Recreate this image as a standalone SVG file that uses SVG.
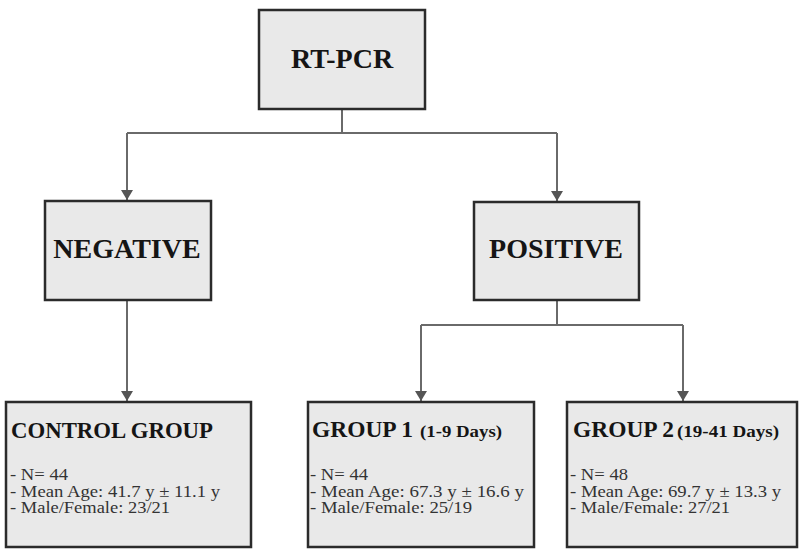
<svg xmlns="http://www.w3.org/2000/svg" width="800" height="552" viewBox="0 0 800 552">
<defs>
<style>
.box{fill:#e9e9e9;stroke:#2b2b2b;stroke-width:2.5}
.t{font-family:"Liberation Serif","Times New Roman",serif;font-weight:bold;fill:#151515}
.big{font-size:28px;text-anchor:middle}
.hd{font-size:23px}
.sm{font-size:16px}
.d{font-family:"Liberation Serif","Times New Roman",serif;font-size:16px;fill:#333}
.c{fill:none;stroke:#6a6a6a;stroke-width:2}
</style>
<marker id="ah" markerWidth="12" markerHeight="12" refX="10" refY="6" orient="auto" markerUnits="userSpaceOnUse">
<path d="M0,0 L10,6 L0,12 z" fill="#555"/>
</marker>
</defs>
<rect width="800" height="552" fill="#fff"/>
<g id="connectors">
<path class="c" d="M342,109 V133"/>
<path class="c" d="M127,133 H557"/>
<path class="c" d="M127,133 V200" marker-end="url(#ah)"/>
<path class="c" d="M557,133 V201" marker-end="url(#ah)"/>
<path class="c" d="M127,300 V401" marker-end="url(#ah)"/>
<path class="c" d="M557,300 V325"/>
<path class="c" d="M421,325 H683"/>
<path class="c" d="M421,325 V401" marker-end="url(#ah)"/>
<path class="c" d="M683,325 V401" marker-end="url(#ah)"/>
</g>
<g id="rtpcr">
<rect class="box" x="259" y="10" width="166" height="99"/>
<text class="t big" x="342" y="68">RT-PCR</text>
</g>
<g id="negative">
<rect class="box" x="45" y="201" width="166" height="99"/>
<text class="t big" x="127" y="258">NEGATIVE</text>
</g>
<g id="positive">
<rect class="box" x="474" y="202" width="165" height="98"/>
<text class="t big" x="556" y="258">POSITIVE</text>
</g>
<g id="control">
<rect class="box" x="6" y="402" width="245" height="145"/>
<text class="t hd" x="11" y="438" textLength="202" lengthAdjust="spacingAndGlyphs">CONTROL GROUP</text>
<text class="d" x="10" y="480" textLength="58" lengthAdjust="spacingAndGlyphs">- N= 44</text>
<text class="d" x="10" y="497" textLength="210" lengthAdjust="spacingAndGlyphs">- Mean Age: 41.7 y ± 11.1 y</text>
<text class="d" x="10" y="513" textLength="160" lengthAdjust="spacingAndGlyphs">- Male/Female: 23/21</text>
</g>
<g id="group1">
<rect class="box" x="308" y="402" width="226" height="145"/>
<text class="t hd" x="312" y="437" textLength="101" lengthAdjust="spacingAndGlyphs">GROUP 1</text>
<text class="t sm" x="420" y="437" textLength="82" lengthAdjust="spacingAndGlyphs">(1-9 Days)</text>
<text class="d" x="310" y="480" textLength="58" lengthAdjust="spacingAndGlyphs">- N= 44</text>
<text class="d" x="310" y="497" textLength="214" lengthAdjust="spacingAndGlyphs">- Mean Age: 67.3 y ± 16.6 y</text>
<text class="d" x="310" y="513" textLength="162" lengthAdjust="spacingAndGlyphs">- Male/Female: 25/19</text>
</g>
<g id="group2">
<rect class="box" x="567" y="402" width="230" height="145"/>
<text class="t hd" x="573" y="437" textLength="101" lengthAdjust="spacingAndGlyphs">GROUP 2</text>
<text class="t sm" x="677" y="437" textLength="102" lengthAdjust="spacingAndGlyphs">(19-41 Days)</text>
<text class="d" x="570" y="480" textLength="58" lengthAdjust="spacingAndGlyphs">- N= 48</text>
<text class="d" x="570" y="497" textLength="211" lengthAdjust="spacingAndGlyphs">- Mean Age: 69.7 y ± 13.3 y</text>
<text class="d" x="570" y="513" textLength="160" lengthAdjust="spacingAndGlyphs">- Male/Female: 27/21</text>
</g>
</svg>
